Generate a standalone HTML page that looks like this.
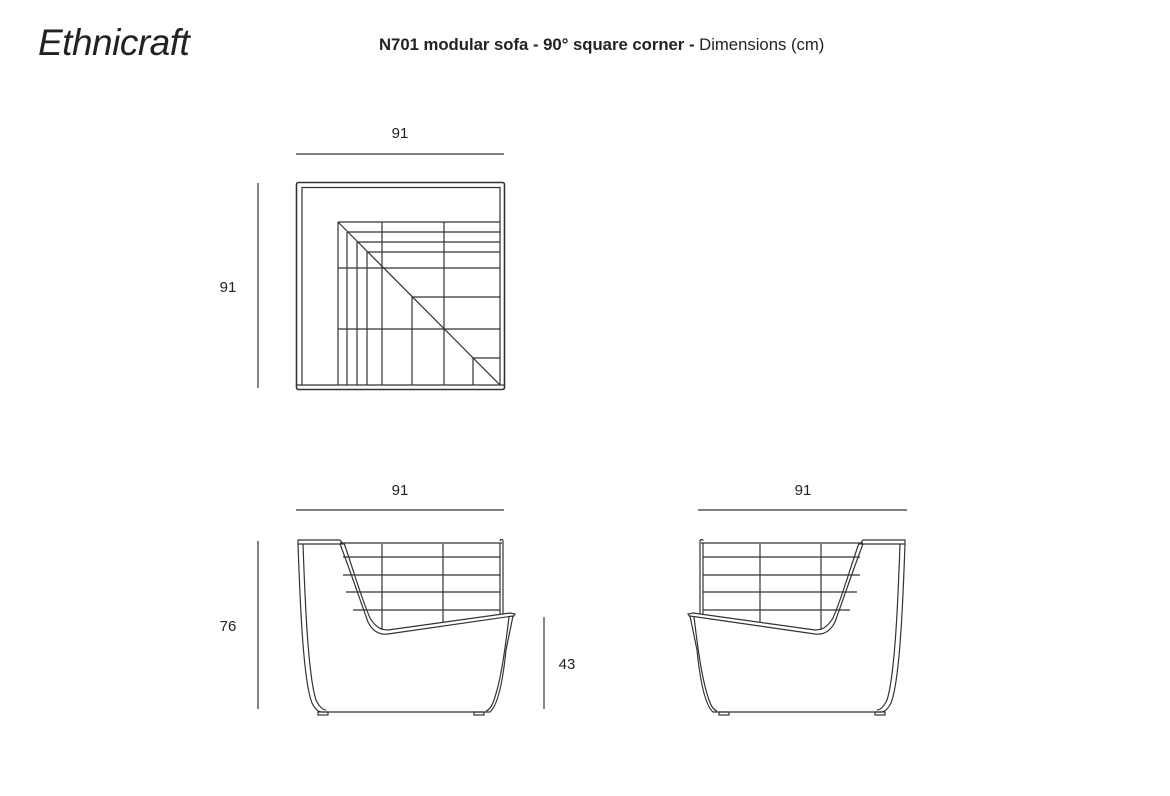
<!DOCTYPE html>
<html><head><meta charset="utf-8"><style>
html,body{margin:0;padding:0;background:#fff;}
body{width:1170px;height:796px;position:relative;overflow:hidden;font-family:"Liberation Sans",sans-serif;}
.t{position:absolute;color:#222;}
</style></head><body>
<div class="t" style="left:38px;top:22px;font-family:'Liberation Sans',sans-serif;font-style:italic;font-weight:300;font-size:37px;letter-spacing:-0.5px;color:#222;">Ethnicraft</div>
<div class="t" style="left:379px;top:35px;font-size:16.7px;"><b>N701 modular sofa - 90° square corner -</b> Dimensions (cm)</div>
<svg width="1170" height="796" style="position:absolute;left:0;top:0" fill="none" stroke="#333" stroke-width="1.2">
<g font-family="Liberation Sans, sans-serif" font-size="15" fill="#222" stroke="none" text-anchor="middle">
<text x="400" y="138">91</text><text x="228" y="292">91</text>
<text x="400" y="495">91</text><text x="803" y="495">91</text>
<text x="228" y="631">76</text><text x="567" y="669">43</text>
</g>
<line x1="296" y1="154" x2="504" y2="154"/>
<line x1="258" y1="183" x2="258" y2="388"/>
<line x1="296" y1="510" x2="504" y2="510"/>
<line x1="698" y1="510" x2="907" y2="510"/>
<line x1="258" y1="541" x2="258" y2="709"/>
<line x1="544" y1="617" x2="544" y2="709"/>
<rect x="296.5" y="182.5" width="208" height="207" rx="2" stroke-width="1.6"/>
<path d="M302 385 V187.5 H500 V385"/>
<line x1="296" y1="385" x2="505" y2="385"/>
<line x1="338" y1="222" x2="500" y2="385"/>
<g>
<path d="M338 222H500M347 232H500M357 242H500M367 252H500M338 268H500M412 297H500M338 329H500M473 358H500"/>
<path d="M338 222V385M347 232V385M357 242V385M367 252V385M382 222V385M412 297V385M444 222V385M473 358V385"/>
</g>
<g id="sv">
<path d="M298 540 H340 L343 544 H298 Z"/>
<path d="M340 543 H502 M340 544 C350 570 360 600 368 622 C373 632 380 635 388 634 L513 616"/>
<path d="M344 543 C354 572 362 600 370 618 C376 628 382 630 388 630 L510 613"/>
<path d="M500 543 V615 M503 541 V614 M500 541 a1.5 1.5 0 0 1 3 0"/>
<path d="M343 557H500M343 575H500M346 592H500M353 610H500"/>
<path d="M382 544V630M443 544V622"/>
<path d="M298 544 C300 600 303 680 312 703 C315 709 318 712 322 712 L490 712 C498 705 503 680 506 650 L513 616"/>
<path d="M303 544 C305 600 308 675 316 700 C319 706 322 710 326 710"/>
<path d="M509 617 C505 650 501 680 494 700 C492 706 489 710 486 711"/>
<path d="M510 613 L515 614 L513 617"/>
<rect x="318" y="712" width="10" height="3"/>
<rect x="474" y="712" width="10" height="3"/>
</g>
<use href="#sv" transform="translate(1203,0) scale(-1,1)"/>
</svg>
</body></html>
